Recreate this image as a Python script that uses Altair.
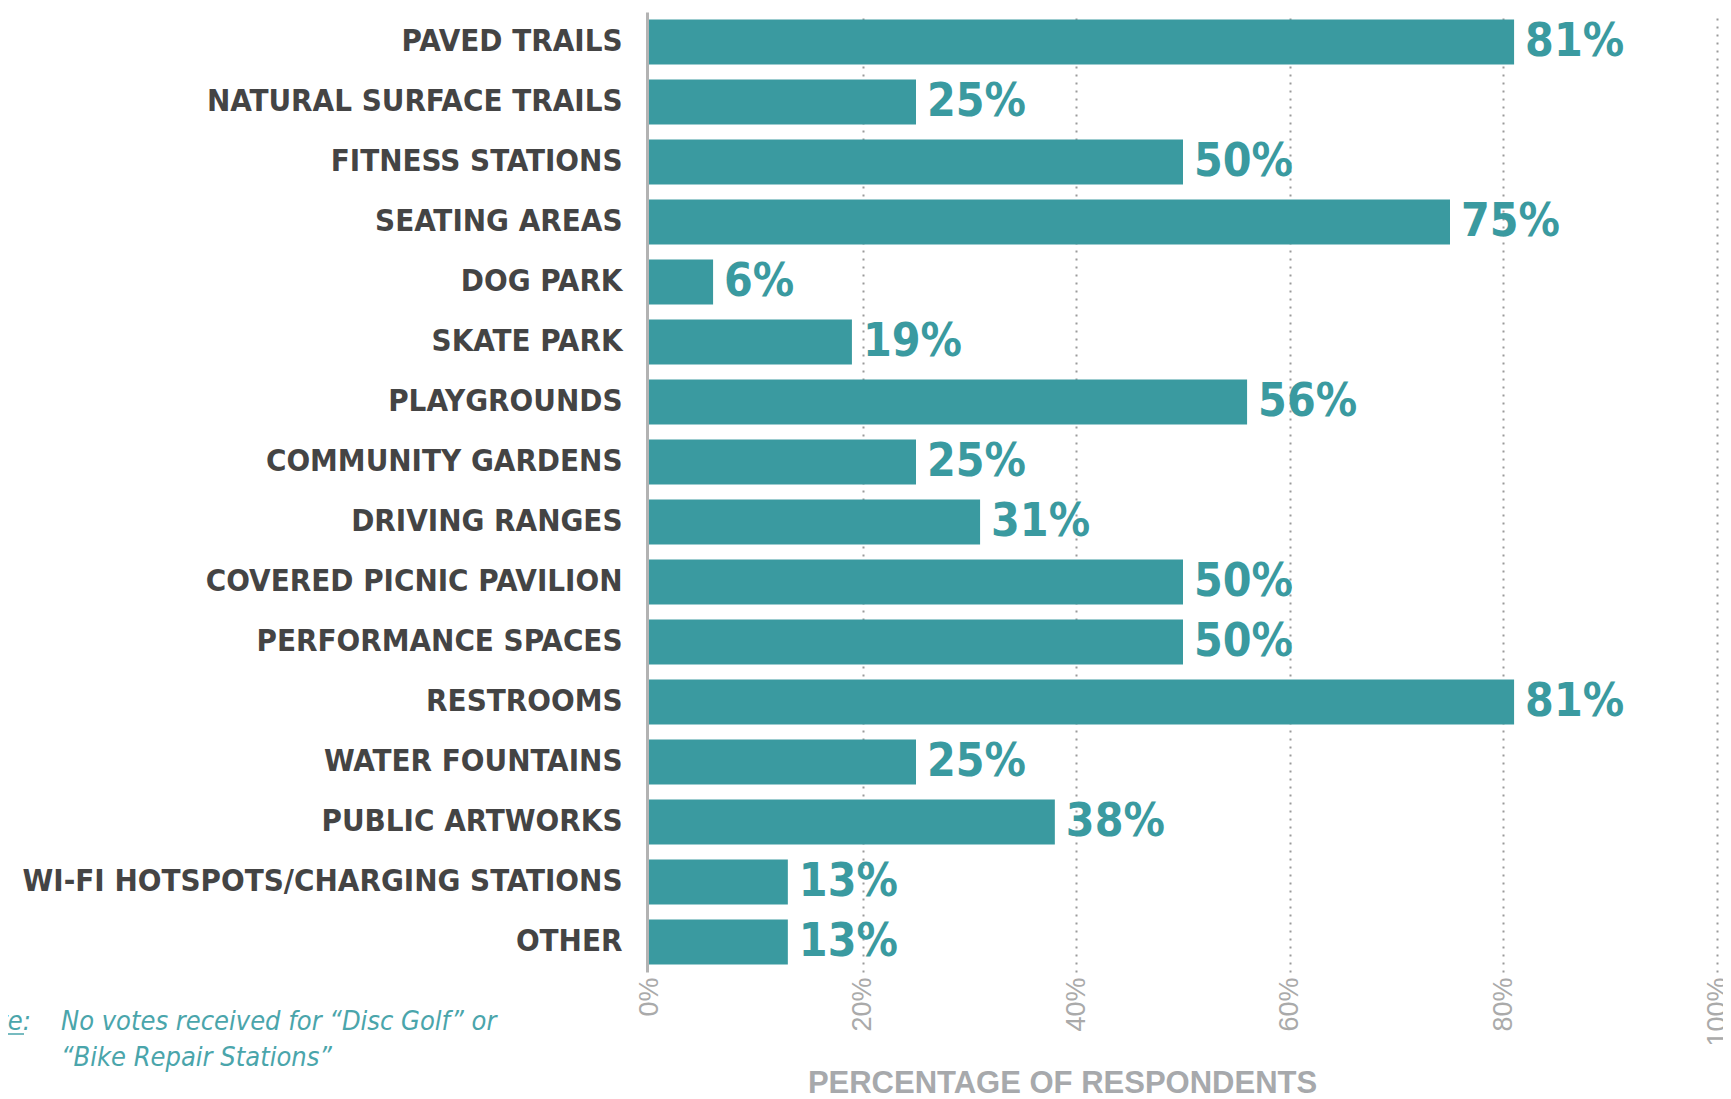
import altair as alt
import pandas as pd

categories = [
    "PAVED TRAILS", "NATURAL SURFACE TRAILS", "FITNESS STATIONS", "SEATING AREAS",
    "DOG PARK", "SKATE PARK", "PLAYGROUNDS", "COMMUNITY GARDENS", "DRIVING RANGES",
    "COVERED PICNIC PAVILION", "PERFORMANCE SPACES", "RESTROOMS", "WATER FOUNTAINS",
    "PUBLIC ARTWORKS", "WI-FI HOTSPOTS/CHARGING STATIONS", "OTHER",
]
values = [81, 25, 50, 75, 6, 19, 56, 25, 31, 50, 50, 81, 25, 38, 13, 13]
x_ticks = [0, 20, 40, 60, 80, 100]
axis_title = "PERCENTAGE OF RESPONDENTS"
note_label = "Note:"
note_lines = ["No votes received for \u201cDisc Golf\u201d or", "\u201cBike Repair Stations\u201d"]

df = pd.DataFrame({"category": categories, "value": values})

TEAL = "#3a9aa0"
NOTE = "#4aa5ab"
COND = "DejaVu Sans Condensed, sans-serif"

y_enc = alt.Y(
    "category:N", sort=categories,
    scale=alt.Scale(paddingInner=0.25, paddingOuter=0.125),
    axis=alt.Axis(title=None, labelFont=COND, labelFontWeight="bold", labelFontSize=31,
                  labelColor="#444444", labelPadding=25, ticks=False, domainColor="#b3b3b3",
                  domainWidth=3, offset=2, labelLimit=800, grid=False),
)
x_enc = alt.X(
    "value:Q", scale=alt.Scale(domain=[0, 100], nice=False),
    axis=alt.Axis(values=x_ticks, labelExpr="datum.value + '%'", labelAngle=270,
                  labelFont="Liberation Sans", labelFontSize=27, labelColor="#aaaaaa",
                  labelPadding=5, ticks=False, domain=False, grid=True, gridDash=[2, 6],
                  gridColor="#9a9a9a", gridWidth=2,
                  gridOpacity=alt.ExprRef("datum.value == 0 ? 0 : 1"),
                  title=axis_title, titleFont="Liberation Sans", titleFontSize=31,
                  titleFontWeight="bold", titleColor="#a7a9ac", titleX=413, titleY=120,
                  titleAlign="center", titleBaseline="alphabetic"),
)

base = alt.Chart(df).transform_calculate(label="format(datum.value, 'd') + '%'")
bars = base.mark_bar(color=TEAL).encode(x=x_enc, y=y_enc)
labels = base.mark_text(align="left", baseline="middle", dx=11, font=COND, fontWeight="bold",
                        fontSize=46, color=TEAL).encode(
    x="value:Q", y=alt.Y("category:N", sort=categories), text="label:N")

one = pd.DataFrame({"k": [0]})
note_head = alt.Chart(one).mark_text(text=note_label, align="right", baseline="alphabetic", font=COND,
                                     fontStyle="italic", fontSize=27, color=NOTE).encode(
    x=alt.value(-618), y=alt.value(1018))
note_rule = alt.Chart(one).mark_rule(color=NOTE, strokeWidth=1.5).encode(
    x=alt.value(-660), x2=alt.value(-625), y=alt.value(1022))
note1 = alt.Chart(one).mark_text(text=note_lines[0], align="left", baseline="alphabetic", font=COND,
                                 fontStyle="italic", fontSize=27, color=NOTE).encode(
    x=alt.value(-588), y=alt.value(1018))
note2 = alt.Chart(one).mark_text(text=note_lines[1], align="left", baseline="alphabetic", font=COND,
                                 fontStyle="italic", fontSize=27, color=NOTE).encode(
    x=alt.value(-588), y=alt.value(1054))

chart = alt.layer(bars, labels, note_head, note_rule, note1, note2).properties(
    width=1068, height=960,
    autosize=alt.AutoSizeParams(type="none"),
    padding={"left": 641, "top": 4, "right": 6, "bottom": 121},
).configure_view(stroke=None)

chart.save("out.html", embed_options={"renderer": "svg", "actions": False})
